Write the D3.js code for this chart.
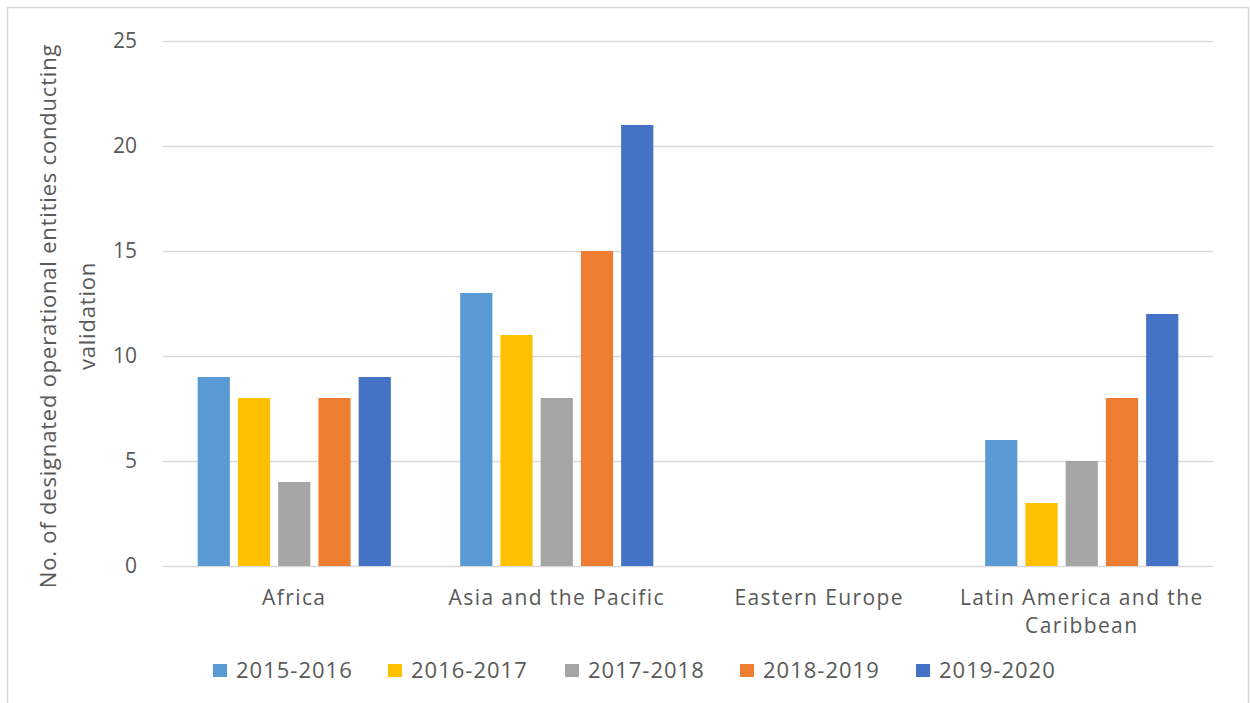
<!DOCTYPE html>
<html><head><meta charset="utf-8">
<script src="https://cdn.jsdelivr.net/npm/d3@7"></script>
<style>body{margin:0;background:#fff}text{font-family:"Open Sans",sans-serif;fill:#595959}</style>
</head><body>
<svg id="c" width="1250" height="703"></svg>
<script>
const categories = ["Africa", "Asia and the Pacific", "Eastern Europe", "Latin America and the Caribbean"];
const seriesNames = ["2015-2016", "2016-2017", "2017-2018", "2018-2019", "2019-2020"];
const colors = ["#5B9BD5", "#FFC000", "#A5A5A5", "#ED7D31", "#4472C4"];
const s2015 = [9, 13, 0, 6];
const s2016 = [8, 11, 0, 3];
const s2017 = [4, 8, 0, 5];
const s2018 = [8, 15, 0, 8];
const s2019 = [9, 21, 0, 12];
const yTicks = [0, 5, 10, 15, 20, 25];
const series = [s2015, s2016, s2017, s2018, s2019];

const svg = d3.select("#c");
svg.append("rect").attr("x", 7.5).attr("y", 7.5).attr("width", 1241).attr("height", 720)
  .attr("fill", "#fff").attr("stroke", "#D9D9D9").attr("stroke-width", 1.5);

const L = 163, R = 1213, T = 41, B = 566;
const x0 = d3.scaleBand().domain(categories).range([L, R]);
const x1 = d3.scaleBand().domain(seriesNames).range([-100.6, 100.6]).paddingInner(0.2).paddingOuter(0.1);
const y = d3.scaleLinear().domain([0, 25]).range([B, T]);

const gy = svg.append("g").attr("transform", `translate(${L},0)`)
  .call(d3.axisLeft(y).tickValues(yTicks).tickSize(-(R - L)).tickPadding(26));
gy.select(".domain").remove();
gy.selectAll(".tick line").attr("stroke", "#D9D9D9").attr("stroke-width", 1.5);
gy.selectAll(".tick text").style("font-size", "21px").attr("fill", "#595959");

const g = svg.append("g");
categories.forEach((c, ci) => {
  series.forEach((s, si) => {
    const v = s[ci];
    if (v <= 0) return;
    g.append("rect")
      .attr("x", x0(c) + x0.bandwidth() / 2 + x1(seriesNames[si]))
      .attr("y", y(v)).attr("width", x1.bandwidth()).attr("height", y(0) - y(v))
      .attr("fill", colors[si]);
  });
});

// category labels
const catLines = [["Africa"], ["Asia and the Pacific"], ["Eastern Europe"], ["Latin America and the", "Caribbean"]];
categories.forEach((c, ci) => {
  catLines[ci].forEach((ln, li) => {
    svg.append("text").attr("x", x0(c) + x0.bandwidth() / 2).attr("y", 605 + li * 28)
      .attr("text-anchor", "middle").style("font-size", "21px").style("letter-spacing", "1.4px").text(ln);
  });
});

// y title
const yt = svg.append("text").attr("transform", "translate(0,316) rotate(-90)")
  .attr("text-anchor", "middle").style("font-size", "22px").style("letter-spacing", "0.8px");
yt.append("tspan").attr("x", 0).attr("y", 56).text("No. of designated operational entities conducting");
yt.append("tspan").attr("x", 0).attr("y", 95).text("validation");

// legend
const legX = [213, 388, 565, 740, 916];
seriesNames.forEach((n, i) => {
  svg.append("rect").attr("x", legX[i]).attr("y", 664).attr("width", 14).attr("height", 13).attr("fill", colors[i]);
  svg.append("text").attr("x", legX[i] + 23).attr("y", 678).style("font-size", "22px").style("letter-spacing", "1px").text(n);
});
</script>
</body></html>
